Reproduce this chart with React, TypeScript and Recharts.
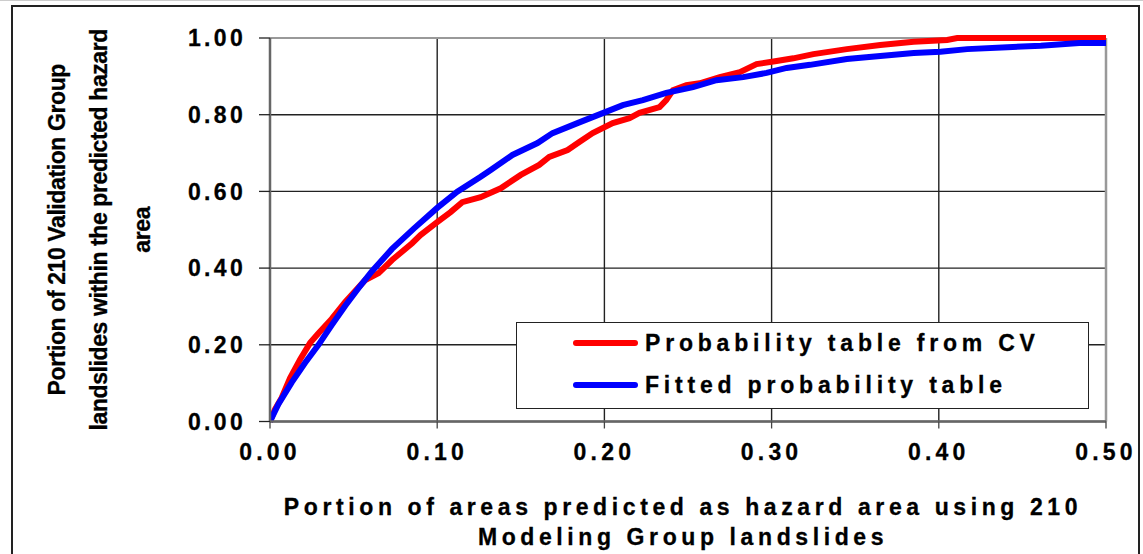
import React from 'react';
import { LineChart, Line, XAxis, YAxis, CartesianGrid, ReferenceLine } from 'recharts';

const cvX = [0, 0.003, 0.007, 0.012, 0.018, 0.024, 0.029, 0.037, 0.045, 0.057, 0.065, 0.073, 0.085, 0.09, 0.1, 0.108, 0.115, 0.126, 0.138, 0.15, 0.161, 0.167, 0.178, 0.185, 0.193, 0.205, 0.215, 0.221, 0.233, 0.237, 0.241, 0.249, 0.257, 0.269, 0.281, 0.291, 0.303, 0.313, 0.325, 0.345, 0.365, 0.385, 0.405, 0.411, 0.5];
const cvY = [0, 0.032, 0.062, 0.113, 0.162, 0.205, 0.23, 0.268, 0.312, 0.369, 0.387, 0.421, 0.465, 0.486, 0.52, 0.546, 0.572, 0.585, 0.608, 0.643, 0.669, 0.69, 0.708, 0.729, 0.752, 0.778, 0.791, 0.805, 0.82, 0.838, 0.864, 0.877, 0.882, 0.898, 0.911, 0.932, 0.94, 0.947, 0.958, 0.971, 0.982, 0.99, 0.995, 1.0, 1.0];

const fitX = [0, 0.005, 0.013, 0.021, 0.029, 0.037, 0.045, 0.053, 0.061, 0.073, 0.086, 0.1, 0.112, 0.126, 0.132, 0.145, 0.16, 0.169, 0.185, 0.199, 0.211, 0.223, 0.237, 0.253, 0.267, 0.283, 0.297, 0.309, 0.323, 0.345, 0.365, 0.385, 0.401, 0.417, 0.441, 0.461, 0.484, 0.5];
const fitY = [0, 0.045, 0.102, 0.153, 0.2, 0.252, 0.302, 0.348, 0.392, 0.45, 0.503, 0.557, 0.599, 0.638, 0.656, 0.695, 0.726, 0.752, 0.78, 0.804, 0.825, 0.838, 0.857, 0.872, 0.89, 0.898, 0.909, 0.922, 0.93, 0.945, 0.953, 0.961, 0.964, 0.971, 0.976, 0.98, 0.987, 0.987];

const xTicks = [0, 0.1, 0.2, 0.3, 0.4, 0.5];
const yTicks = [0, 0.2, 0.4, 0.6, 0.8, 1.0];

const seriesNames = ['Probability table from CV', 'Fitted probability table'];
const seriesColors = ['#ff0000', '#0000ff'];
const xTitle = ['Portion of areas predicted as hazard area using 210', 'Modeling Group landslides'];
const yTitle = ['Portion of 210 Validation Group', 'landslides within the predicted hazard', 'area'];

const cvData = cvX.map((x, i) => ({ x, y: cvY[i] }));
const fitData = fitX.map((x, i) => ({ x, y: fitY[i] }));

const FONT = '"Liberation Sans", Arial, sans-serif';

const XTitle = (props: any) => {
  const vb = props.viewBox || {};
  const cx = vb.x + vb.width / 2 - 5;
  const y0 = vb.y;
  return (
    <g>
      {xTitle.map((t, i) => (
        <text key={i} x={cx} y={y0 + 93.5 + i * 30} textAnchor="middle" fontFamily={FONT} fontWeight="bold" fontSize={23} letterSpacing={4.6} fill="#000" stroke="#000" strokeWidth={0.3}>
          {t}
        </text>
      ))}
    </g>
  );
};

const YTitle = (props: any) => {
  const vb = props.viewBox || {};
  const cy = vb.y + vb.height / 2;
  const xs = [65, 107, 150];
  return (
    <g>
      {yTitle.map((t, i) => (
        <text key={i} x={xs[i]} y={cy} transform={`rotate(-90, ${xs[i]}, ${cy})`} textAnchor="middle" fontFamily={FONT} fontWeight="bold" fontSize={23} letterSpacing={-0.4} fill="#000" stroke="#000" strokeWidth={0.3}>
          {t}
        </text>
      ))}
    </g>
  );
};

const LegendBox = () => (
  <div style={{ position: 'absolute', left: 516, top: 322, width: 571, height: 85, border: '1.5px solid #222', background: '#fff' }}>
    {seriesNames.map((n, i) => (
      <div key={i} style={{ position: 'absolute', left: 56, top: 5 + i * 42, height: 30, display: 'flex', alignItems: 'center' }}>
        <div style={{ width: 65, height: 6, borderRadius: 3, background: seriesColors[i], marginRight: 7 }} />
        <span style={{ fontFamily: FONT, fontWeight: 'bold', fontSize: 23, letterSpacing: 4.8, color: '#000', whiteSpace: 'nowrap', WebkitTextStroke: '0.3px #000' }}>{n}</span>
      </div>
    ))}
  </div>
);

export default function App() {
  return (
    <div style={{ position: 'absolute', left: 0, top: 0, width: 1143, height: 554, background: '#fff', overflow: 'hidden' }}>
      <div style={{ position: 'absolute', left: 0, top: 0, width: 1143, height: 1, background: '#ccc' }} />
      <div style={{ position: 'absolute', left: 11, top: 5, width: 1125, height: 600, border: '2px solid #222' }} />
      <div style={{ position: 'absolute', left: 0, top: 0 }}>
        <LineChart width={1143} height={554} margin={{ top: 38, right: 37, bottom: 32.5, left: 0 }}>
          <CartesianGrid stroke="#222" strokeWidth={1.4} />
          <ReferenceLine y={1} stroke="#999" strokeWidth={2} />
          <ReferenceLine x={0.5} stroke="#999" strokeWidth={2.5} />
          <XAxis
            type="number"
            dataKey="x"
            domain={[0, 0.5]}
            ticks={xTicks}
            tickFormatter={(v: number) => v.toFixed(2)}
            height={100}
            tickSize={7}
            tickMargin={15}
            allowDataOverflow
            axisLine={{ stroke: '#666', strokeWidth: 2.5 }}
            tickLine={{ stroke: '#444', strokeWidth: 1.3 }}
            tick={{ fill: '#000', stroke: '#000', strokeWidth: 0.3, fontSize: 23, fontWeight: 'bold', fontFamily: FONT, letterSpacing: 4.2 }}
            label={<XTitle />}
          />
          <YAxis
            type="number"
            dataKey="y"
            domain={[0, 1]}
            ticks={yTicks}
            tickFormatter={(v: number) => v.toFixed(2)}
            width={270}
            tickSize={11}
            tickMargin={13}
            axisLine={{ stroke: '#666', strokeWidth: 2.5 }}
            tickLine={{ stroke: '#222', strokeWidth: 1.3 }}
            tick={{ fill: '#000', stroke: '#000', strokeWidth: 0.3, fontSize: 23, fontWeight: 'bold', fontFamily: FONT, letterSpacing: 3.3 }}
            label={<YTitle />}
          />
          <Line data={cvData} dataKey="y" name={seriesNames[0]} type="linear" stroke={seriesColors[0]} strokeWidth={6} dot={false} isAnimationActive={false} />
          <Line data={fitData} dataKey="y" name={seriesNames[1]} type="linear" stroke={seriesColors[1]} strokeWidth={6} dot={false} isAnimationActive={false} />
        </LineChart>
      </div>
      <LegendBox />
    </div>
  );
}
